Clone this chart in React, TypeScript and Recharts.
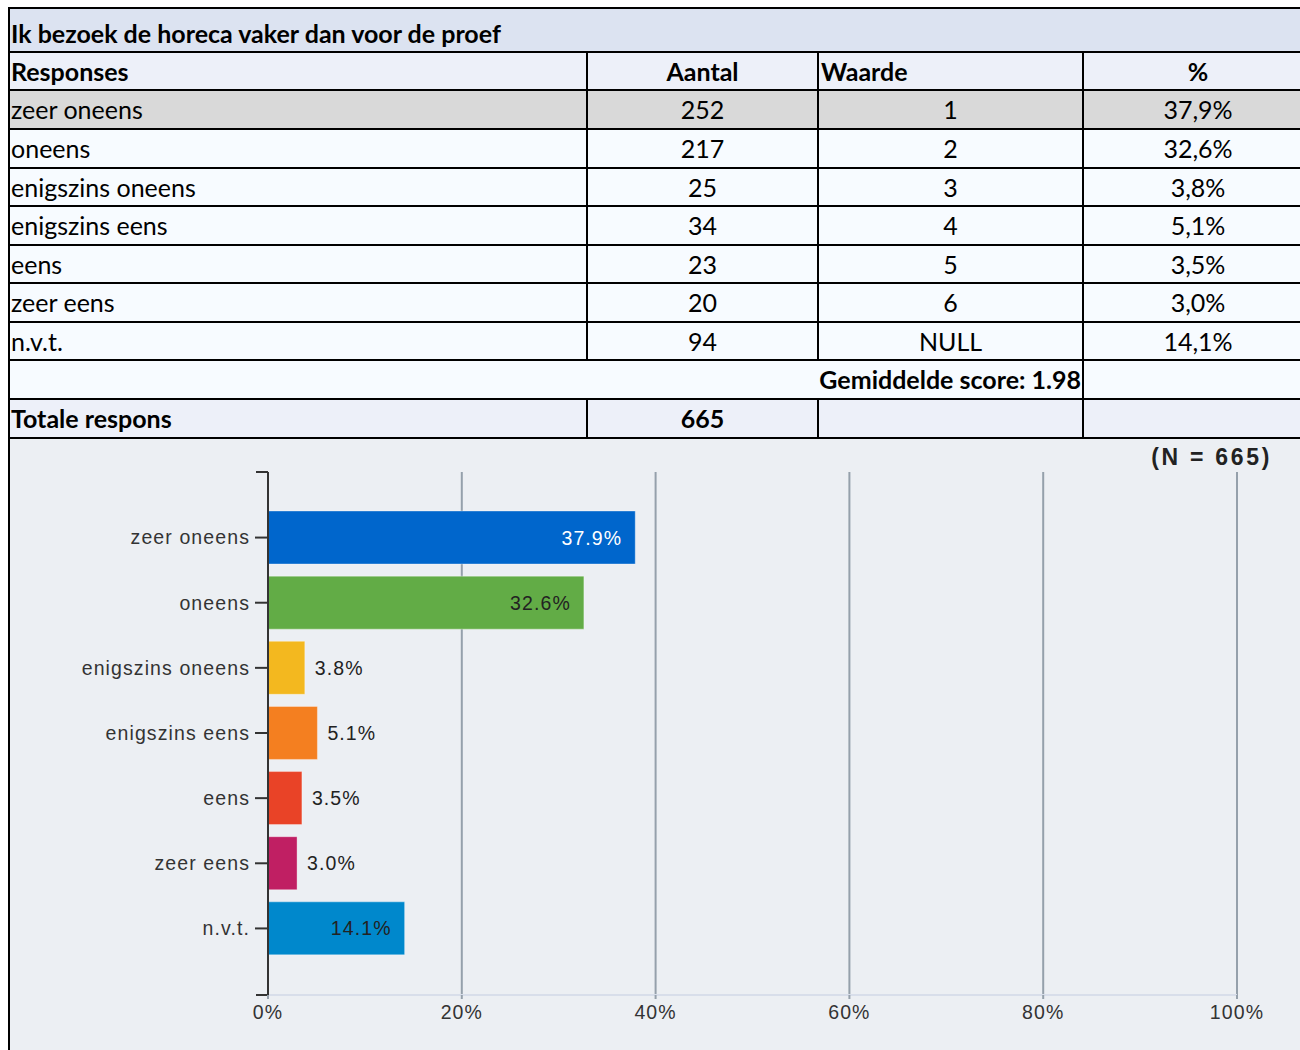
import React from 'react'
import * as Recharts from 'recharts'
import { BarChart, Bar, XAxis, YAxis, CartesianGrid, Cell, LabelList } from 'recharts'

const title = 'Ik bezoek de horeca vaker dan voor de proef'
const responses = ['zeer oneens', 'oneens', 'enigszins oneens', 'enigszins eens', 'eens', 'zeer eens', 'n.v.t.']
const aantal = [252, 217, 25, 34, 23, 20, 94]
const waarde = ['1', '2', '3', '4', '5', '6', 'NULL']
const percentages = [37.9, 32.6, 3.8, 5.1, 3.5, 3.0, 14.1]
const barColors = ['#0066cc', '#62ac46', '#f3b81f', '#f47f20', '#e94327', '#c01f63', '#0088cc']
const xTicks = [0, 20, 40, 60, 80, 100]
const totalResponses = 665
const averageScore = '1.98'

const chartData = responses.map((name, i) => ({ name, pct: percentages[i] }))

// table grid (borders)
const colX = [8, 587, 818, 1083, 1313]
const rowY = [8, 52, 90, 129, 168, 206, 245, 283, 322, 360, 399, 438]

const tableFont = 'Lato, "Open Sans", sans-serif'
const chartFont = '"Liberation Sans", Arial, sans-serif'
const chartText = { fill: '#333', fontSize: 19.5, letterSpacing: 1.1, fontFamily: chartFont }

const fmtComma = (v: number) => v.toFixed(1).replace('.', ',') + '%'

// little end ticks on the category axis (top / bottom of plot area)
function AxisEnds() {
  const usePA = (Recharts as any).usePlotArea
  if (!usePA) return null
  const plot = usePA()
  if (!plot) return null
  const x = plot.x
  return (
    <g>
      <line x1={x - 12} x2={x} y1={plot.y} y2={plot.y} stroke="#333" strokeWidth={2} />
      <line x1={x - 12} x2={x} y1={plot.y + plot.height} y2={plot.y + plot.height} stroke="#333" strokeWidth={2} />
    </g>
  )
}

const renderBarLabel = (props: any) => {
  const { x, y, width, height, value, index } = props
  const inside = value > 10
  const tx = inside ? x + width - 13 : x + width + 10
  return (
    <text
      x={tx}
      y={y + height / 2}
      textAnchor={inside ? 'end' : 'start'}
      dominantBaseline="central"
      fill={index === 0 ? '#ffffff' : '#222'}
      fontSize={chartText.fontSize}
      letterSpacing={chartText.letterSpacing}
      fontFamily={chartFont}
    >
      {value.toFixed(1)}%
    </text>
  )
}

function Cell_({ left, width, top, height, align = 'left', bold = false, children, dy = 0 }: any) {
  return (
    <div
      style={{
        position: 'absolute',
        left,
        width,
        top: top + dy,
        height,
        lineHeight: `${height}px`,
        textAlign: align,
        fontWeight: bold ? 700 : 400,
        fontSize: 25,
        fontFamily: tableFont,
        color: '#000',
        whiteSpace: 'nowrap',
        paddingLeft: align === 'left' ? 3 : 0,
        boxSizing: 'border-box',
      }}
    >
      {children}
    </div>
  )
}

export default function App() {
  const hLines = rowY.map((y, i) => (
    <div key={'h' + i} style={{ position: 'absolute', left: 8, width: 1300, top: y - 1, height: 2, background: '#000' }} />
  ))

  const vLines: React.ReactNode[] = []
  // column separators per row
  for (let r = 1; r < rowY.length - 1; r++) {
    const cols = r === 9 ? [3] : [1, 2, 3]
    cols.forEach((c) => {
      vLines.push(
        <div
          key={`v${r}-${c}`}
          style={{ position: 'absolute', left: colX[c] - 1, width: 2, top: rowY[r], height: rowY[r + 1] - rowY[r], background: '#000' }}
        />
      )
    })
  }

  const rowBg = ['#dce3f1', '#edf0f9', '#d9d9d9', '#f7fbff', '#f7fbff', '#f7fbff', '#f7fbff', '#f7fbff', '#f7fbff', '#f7fbff', '#edf0f9']

  const cellW = (c: number) => colX[c + 1] - colX[c]

  return (
    <div style={{ position: 'absolute', left: 0, top: 0, width: 1300, height: 1050, overflow: 'hidden', background: '#fff' }}>
      {rowBg.map((bg, i) => (
        <div key={'bg' + i} style={{ position: 'absolute', left: 8, width: 1300, top: rowY[i], height: rowY[i + 1] - rowY[i], background: bg }} />
      ))}
      <div style={{ position: 'absolute', left: 8, width: 1300, top: rowY[11], height: 1050 - rowY[11], background: '#eceff3' }} />

      {/* title */}
      <Cell_ left={colX[0]} width={1200} top={rowY[0]} height={rowY[1] - rowY[0]} bold dy={3}>
        {title}
      </Cell_>

      {/* header */}
      <Cell_ left={colX[0]} width={cellW(0)} top={rowY[1]} height={rowY[2] - rowY[1]} bold>Responses</Cell_>
      <Cell_ left={colX[1]} width={cellW(1)} top={rowY[1]} height={rowY[2] - rowY[1]} bold align="center">Aantal</Cell_>
      <Cell_ left={colX[2]} width={cellW(2)} top={rowY[1]} height={rowY[2] - rowY[1]} bold>Waarde</Cell_>
      <Cell_ left={colX[3]} width={cellW(3)} top={rowY[1]} height={rowY[2] - rowY[1]} bold align="center">%</Cell_>

      {responses.map((name, i) => {
        const top = rowY[i + 2]
        const h = rowY[i + 3] - top
        return (
          <React.Fragment key={name}>
            <Cell_ left={colX[0]} width={cellW(0)} top={top} height={h}>{name}</Cell_>
            <Cell_ left={colX[1]} width={cellW(1)} top={top} height={h} align="center">{aantal[i]}</Cell_>
            <Cell_ left={colX[2]} width={cellW(2)} top={top} height={h} align="center">{waarde[i]}</Cell_>
            <Cell_ left={colX[3]} width={cellW(3)} top={top} height={h} align="center">{fmtComma(percentages[i])}</Cell_>
          </React.Fragment>
        )
      })}

      <Cell_ left={colX[0]} width={colX[3] - colX[0] - 2} top={rowY[9]} height={rowY[10] - rowY[9]} bold align="right">
        Gemiddelde score: {averageScore}
      </Cell_>

      <Cell_ left={colX[0]} width={cellW(0)} top={rowY[10]} height={rowY[11] - rowY[10]} bold>Totale respons</Cell_>
      <Cell_ left={colX[1]} width={cellW(1)} top={rowY[10]} height={rowY[11] - rowY[10]} bold align="center">{totalResponses}</Cell_>

      {hLines}
      {vLines}
      <div style={{ position: 'absolute', left: 8, width: 2, top: 8, height: 1042, background: '#000' }} />

      {/* N label */}
      <div
        style={{
          position: 'absolute',
          right: 28,
          top: 444,
          fontFamily: chartFont,
          fontWeight: 700,
          fontSize: 23,
          letterSpacing: 2.7,
          color: '#222',
        }}
      >
        (N = {totalResponses})
      </div>

      <div style={{ position: 'absolute', left: 10, top: 440 }}>
        <BarChart
          width={1290}
          height={610}
          data={chartData}
          layout="vertical"
          margin={{ top: 32, right: 63, left: 0, bottom: 0 }}
        >
          <CartesianGrid horizontal={false} vertical stroke="#95a0ab" strokeWidth={2} />
          <XAxis
            type="number"
            domain={[0, 100]}
            ticks={xTicks}
            tickFormatter={(v: number) => `${v}%`}
            height={55}
            axisLine={{ stroke: '#d8deea', strokeWidth: 2 }}
            tickLine={{ stroke: '#95a0ab', strokeWidth: 2 }}
            tickSize={4}
            tickMargin={6}
            tick={chartText}
          />
          <YAxis
            type="category"
            dataKey="name"
            width={258}
            padding={{ top: 33, bottom: 34 }}
            axisLine={{ stroke: '#333', strokeWidth: 2 }}
            tickLine={{ stroke: '#333', strokeWidth: 2 }}
            tickSize={13}
            tickMargin={5}
            tick={chartText}
          />
          <Bar dataKey="pct" barSize={53} isAnimationActive={false} stroke="rgba(255,255,255,0.35)" strokeWidth={1}>
            {chartData.map((d, i) => (
              <Cell key={d.name} fill={barColors[i]} />
            ))}
            <LabelList dataKey="pct" content={renderBarLabel} />
          </Bar>
          <AxisEnds />
        </BarChart>
      </div>
    </div>
  )
}
